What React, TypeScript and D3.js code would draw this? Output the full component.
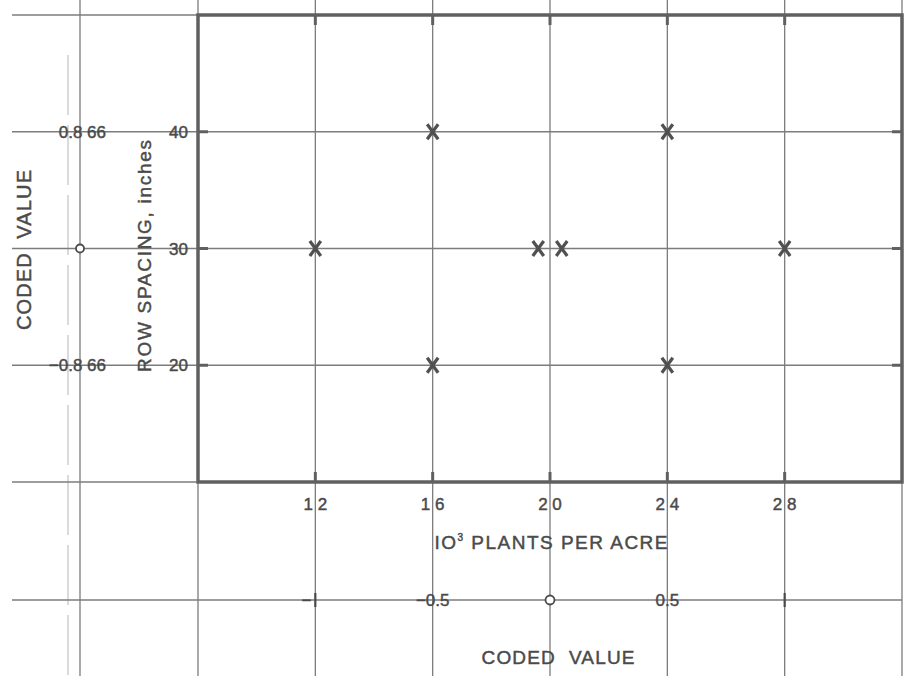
import React, { useRef, useEffect } from 'react'
import * as d3 from 'd3'

// design points: 10^3 plants per acre vs row spacing (inches)
const plantsPerAcre = [16, 24, 12, 19.6, 20.4, 28, 16, 24]
const rowSpacing = [40, 40, 30, 30, 30, 30, 20, 20]

const densityTicks = [12, 16, 20, 24, 28]
const densityTickLabels = ['1 2', '1 6', '2 0', '2 4', '2 8']
const spacingTicks = [40, 30, 20]
const spacingTickLabels = ['40', '30', '20']

const codedX = [-1, -0.5, 0, 0.5, 1]
const codedXLabels = ['−', '−0.5', '', '0.5', '']
const codedY = [0.866, 0, -0.866]
const codedYLabels = ['0.8 66', '', '−0.8 66']

function App() {
  const ref = useRef(null)

  useEffect(() => {
    const W = 904
    const H = 676
    const frame = { left: 198, top: 15, right: 902, bottom: 482 }
    const ink = '#4a4a4a'
    const thin = '#7c7c7c'
    const font = '"Liberation Sans", Arial, sans-serif'

    const svg = d3.select(ref.current)
    svg.selectAll('*').remove()
    svg.attr('width', W).attr('height', H)

    const x = d3.scaleLinear().domain([8, 32]).range([frame.left, frame.right])
    const y = d3.scaleLinear().domain([10, 50]).range([frame.bottom, frame.top])
    // coded scales: density coded = (d - 20) / 8, spacing coded = (s - 30) / 11.547
    const cx = d3.scaleLinear().domain([-1, 1]).range([x(12), x(28)])
    const cy = d3.scaleLinear().domain([-0.866, 0.866]).range([y(20), y(40)])

    const codedAxisY = 600
    const codedAxisX = 80
    const leftEdge = 12

    const g = svg.append('g')

    // thin grid lines running through the whole sheet
    const vx = [frame.left, ...densityTicks.map(x), frame.right]
    g.selectAll('.vline').data(vx).enter().append('line')
      .attr('x1', d => d).attr('x2', d => d)
      .attr('y1', 0).attr('y2', H)
      .attr('stroke', thin).attr('stroke-width', 1.3)

    g.append('line')
      .attr('x1', codedAxisX).attr('x2', codedAxisX).attr('y1', 0).attr('y2', H)
      .attr('stroke', thin).attr('stroke-width', 1.3)
    g.append('line')
      .attr('x1', codedAxisX - 12).attr('x2', codedAxisX - 12).attr('y1', 55).attr('y2', H)
      .attr('stroke', '#b5b5b5').attr('stroke-width', 1).attr('stroke-dasharray', '60 10')

    const hy = [frame.top, ...spacingTicks.map(y), frame.bottom, codedAxisY]
    g.selectAll('.hline').data(hy).enter().append('line')
      .attr('x1', leftEdge).attr('x2', frame.right)
      .attr('y1', d => d).attr('y2', d => d)
      .attr('stroke', thin).attr('stroke-width', 1.3)

    // heavy frame
    g.append('rect')
      .attr('x', frame.left).attr('y', frame.top)
      .attr('width', frame.right - frame.left).attr('height', frame.bottom - frame.top)
      .attr('fill', 'none').attr('stroke', '#606060').attr('stroke-width', 3.5)

    // frame ticks
    densityTicks.forEach(d => {
      g.append('line').attr('x1', x(d)).attr('x2', x(d)).attr('y1', frame.top).attr('y2', frame.top + 10)
        .attr('stroke', '#606060').attr('stroke-width', 3)
      g.append('line').attr('x1', x(d)).attr('x2', x(d)).attr('y1', frame.bottom).attr('y2', frame.bottom - 10)
        .attr('stroke', '#606060').attr('stroke-width', 3)
    })
    spacingTicks.forEach(s => {
      g.append('line').attr('x1', frame.left).attr('x2', frame.left + 10).attr('y1', y(s)).attr('y2', y(s))
        .attr('stroke', '#606060').attr('stroke-width', 3)
      g.append('line').attr('x1', frame.right - 10).attr('x2', frame.right).attr('y1', y(s)).attr('y2', y(s))
        .attr('stroke', '#606060').attr('stroke-width', 3)
    })

    const label = sel => sel
      .attr('font-family', font).attr('fill', ink)
      .attr('stroke', ink).attr('stroke-width', 0.45)

    // tick labels
    g.selectAll('.dlab').data(densityTicks).enter().append('text')
      .attr('x', d => x(d)).attr('y', 510)
      .attr('text-anchor', 'middle')
      .attr('font-size', 17)
      .attr('xml:space', 'preserve')
      .call(label)
      .text((d, i) => densityTickLabels[i])

    g.selectAll('.slab').data(spacingTicks).enter().append('text')
      .attr('x', 188).attr('y', d => y(d) + 6)
      .attr('text-anchor', 'end')
      .attr('font-size', 17)
      .call(label)
      .text((d, i) => spacingTickLabels[i])

    // coded value axes
    g.selectAll('.cyl').data(codedY).enter().append('text')
      .attr('x', 106).attr('y', d => cy(d) + 6)
      .attr('text-anchor', 'end')
      .attr('font-size', 17)
      .attr('xml:space', 'preserve')
      .call(label)
      .text((d, i) => codedYLabels[i])
    g.append('circle')
      .attr('cx', codedAxisX).attr('cy', cy(0)).attr('r', 4)
      .attr('fill', 'white').attr('stroke', ink).attr('stroke-width', 1.8)

    g.selectAll('.cxl').data(codedX).enter().append('text')
      .attr('x', d => d === -1 ? cx(d) - 4 : cx(d))
      .attr('y', codedAxisY + 6)
      .attr('text-anchor', d => d === -1 ? 'end' : 'middle')
      .attr('font-size', 17)
      .call(label)
      .text((d, i) => codedXLabels[i])
    ;[-1, 1].forEach(d => {
      g.append('line').attr('x1', cx(d)).attr('x2', cx(d)).attr('y1', codedAxisY - 7).attr('y2', codedAxisY + 7)
        .attr('stroke', ink).attr('stroke-width', 2.2)
    })
    g.append('circle')
      .attr('cx', cx(0)).attr('cy', codedAxisY).attr('r', 4.5)
      .attr('fill', 'white').attr('stroke', ink).attr('stroke-width', 1.8)

    // axis titles
    g.append('text')
      .attr('x', 551).attr('y', 549)
      .attr('text-anchor', 'middle')
      .attr('font-size', 19)
      .attr('textLength', 233).attr('lengthAdjust', 'spacing')
      .call(label)
      .html('IO<tspan font-size="10" dy="-8">3</tspan><tspan dy="8"> PLANTS PER ACRE</tspan>')

    g.append('text')
      .attr('x', 558).attr('y', 664)
      .attr('text-anchor', 'middle')
      .attr('font-size', 19)
      .attr('textLength', 153).attr('lengthAdjust', 'spacing')
      .attr('xml:space', 'preserve')
      .call(label)
      .text('CODED  VALUE')

    g.append('text')
      .attr('transform', 'translate(151, 256) rotate(-90)')
      .attr('text-anchor', 'middle')
      .attr('font-size', 19)
      .attr('textLength', 232).attr('lengthAdjust', 'spacing')
      .call(label)
      .text('ROW SPACING, inches')

    g.append('text')
      .attr('transform', 'translate(31, 250) rotate(-90)')
      .attr('text-anchor', 'middle')
      .attr('font-size', 20)
      .attr('textLength', 160).attr('lengthAdjust', 'spacing')
      .attr('xml:space', 'preserve')
      .call(label)
      .text('CODED  VALUE')

    // design points as X marks
    const pts = plantsPerAcre.map((p, i) => ({ p, s: rowSpacing[i] }))
    const marks = g.selectAll('.pt').data(pts).enter().append('g')
      .attr('transform', d => `translate(${x(d.p)}, ${y(d.s)})`)
    marks.append('line').attr('x1', -5.5).attr('y1', -7.5).attr('x2', 5.5).attr('y2', 7.5)
      .attr('stroke', '#505050').attr('stroke-width', 3.2)
    marks.append('line').attr('x1', 5.5).attr('y1', -7.5).attr('x2', -5.5).attr('y2', 7.5)
      .attr('stroke', '#505050').attr('stroke-width', 3.2)
  }, [])

  return (
    <div style={{ position: 'absolute', left: 0, top: 0 }}>
      <svg ref={ref} style={{ display: 'block', background: 'white' }}></svg>
    </div>
  )
}

export default App
